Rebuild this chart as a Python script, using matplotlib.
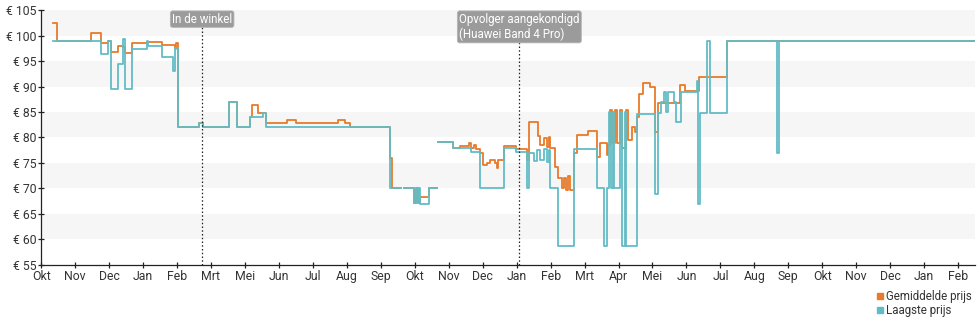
import numpy as np
import matplotlib
matplotlib.use("Agg")
import matplotlib.pyplot as plt
from matplotlib.lines import Line2D

plt.rcParams["font.family"] = ["Roboto", "DejaVu Sans"]

# x = months since start of first "Okt", prices in euro (steps-post), NaN = gap
month_labels = ["Okt", "Nov", "Dec", "Jan", "Feb", "Mrt", "Mei", "Jun", "Jul", "Aug",
                "Sep", "Okt", "Nov", "Dec", "Jan", "Feb", "Mrt", "Apr", "Mei", "Jun",
                "Jul", "Aug", "Sep", "Okt", "Nov", "Dec", "Jan", "Feb"]

avg_x = [0.35, 0.47, 1.47, 1.77, 1.97, 2.06, 2.27, 2.42, 2.47, 2.68, 3.12, 3.56, 3.95,
         3.98, 4.03, 4.65, 4.77, 5.54, 5.77, 6.15, 6.21, 6.39, 6.62, 7.24, 7.51, 8.75,
         8.95, 9.10, 10.28, 10.34, 10.60, 10.69, 10.98, 11.04, 11.10, 11.16, 11.43, 11.66,
         11.69, 12.13, 12.34, 12.60, 12.66, 12.75, 12.80, 12.93, 13.02, 13.13, 13.22, 13.37,
         13.43, 13.46, 13.63, 13.99, 14.31, 14.37, 14.64, 14.70, 14.80, 14.90, 14.95, 14.99,
         15.14, 15.22, 15.34, 15.40, 15.46, 15.52, 15.58, 15.70, 15.78, 16.11, 16.37, 16.46,
         16.67, 16.70, 16.76, 16.81, 16.90, 16.96, 17.05, 17.11, 17.23, 17.28, 17.40, 17.49,
         17.55, 17.61, 17.73, 17.94, 18.08, 18.17, 18.82, 18.96, 19.38, 20.20, 27.5]
avg_y = [102.5, 99.0, 100.5, 98.5, 99.0, 96.7, 98.0, 97.8, 96.6, 98.6, 98.8, 98.2, 97.3,
         98.5, 82.0, 82.9, 82.0, 87.0, 82.0, 84.0, 86.4, 84.9, 82.9, 83.4, 82.9, 83.4,
         82.9, 82.0, 76.0, 70.0, np.nan, 70.0, 67.2, 70.0, 67.2, 68.4, 70.0, np.nan,
         79.1, 78.0, 78.4, 78.9, 78.0, 78.6, 77.8, 76.9, 74.6, 75.0, 75.5, 75.0,
         74.0, 75.6, 78.3, 77.8, 75.6, 83.1, 80.2, 78.5, 79.8, 78.2, 80.0, 78.0,
         74.2, 72.0, 70.0, 72.0, 69.6, 72.5, 69.6, 76.9, 80.5, 81.3, 76.2, 78.9,
         76.5, 78.5, 85.3, 79.0, 85.3, 79.0, 85.3, 78.0, 85.3, 79.5, 82.0, 81.0,
         84.0, 88.5, 90.6, 90.0, 81.1, 86.8, 90.3, 89.1, 91.9, 99.0, 99.0]

low_x = [0.35, 1.77, 1.97, 2.06, 2.27, 2.42, 2.47, 2.68, 3.12, 3.15, 3.56, 3.88, 3.95,
         4.03, 4.65, 4.77, 5.54, 5.77, 6.15, 6.54, 6.62, 10.28, 10.60, 10.69, 10.98, 11.04,
         11.10, 11.13, 11.16, 11.43, 11.66, 11.69, 12.13, 12.66, 12.93, 13.63, 13.99, 14.31,
         14.37, 14.52, 14.60, 14.70, 14.80, 14.88, 14.95, 14.99, 15.22, 15.70, 16.37, 16.58,
         16.67, 16.73, 16.78, 16.84, 16.87, 17.05, 17.11, 17.20, 17.23, 17.55, 18.08, 18.17,
         18.26, 18.34, 18.40, 18.46, 18.64, 18.70, 18.85, 19.32, 19.35, 19.41, 19.61, 19.70,
         20.20, 21.67, 21.73, 27.5]
low_y = [99.0, 96.4, 99.0, 89.5, 94.5, 99.3, 89.5, 97.4, 99.0, 97.9, 95.8, 93.1, 97.5,
         82.0, 82.9, 82.0, 87.0, 82.0, 84.0, 84.9, 82.0, 70.0, np.nan, 70.0, 67.2, 70.0,
         67.2, 70.0, 67.0, 70.0, np.nan, 79.1, 78.0, 77.2, 70.0, 78.0, 77.2, 70.0,
         77.0, 75.3, 77.5, 75.5, 77.7, 75.2, 77.5, 70.0, 58.8, 77.8, 70.0, 58.8,
         70.0, 85.0, 70.0, 85.0, 70.0, 85.0, 58.8, 85.0, 58.8, 84.7, 68.9, 84.9,
         87.0, 89.0, 85.0, 89.0, 87.0, 83.1, 89.0, 91.1, 67.0, 84.9, 99.0, 84.9,
         99.0, 77.0, 99.0, 99.0]

events_x = [4.74, 14.08]
events_text = ["In de winkel", "Opvolger aangekondigd\n(Huawei Band 4 Pro)"]

C_AVG = "#e87a2a"
C_LOW = "#62bcc5"

fig = plt.figure(figsize=(9.8, 3.25), dpi=100)
ax = fig.add_axes([0.042, 0.185, 0.953, 0.784])
ax.set_xlim(0, 27.5)
ax.set_ylim(55, 105)

# alternating horizontal bands
for lo in range(55, 105, 10):
    ax.axhspan(lo + 5, lo + 10, color="#f6f6f6", zorder=0, lw=0)

ax.plot(avg_x, avg_y, drawstyle="steps-post", color=C_AVG, lw=1.3, zorder=2)
ax.plot(low_x, low_y, drawstyle="steps-post", color=C_LOW, lw=1.3, zorder=3)

for x, txt in zip(events_x, events_text):
    ax.axvline(x, color="#222222", ls=(0, (1.2, 1.8)), lw=0.9, zorder=4)
    ax.text(x, 104.5, txt, ha="center", va="top", fontsize=8.3, color="white",
            multialignment="left", zorder=5,
            bbox=dict(boxstyle="round,pad=0.15,rounding_size=0.2", fc="#9b9b9b",
                      ec="#b5b5b5", lw=0.6))

ax.set_yticks(range(55, 106, 5))
ax.set_yticklabels([f"€ {v}" for v in range(55, 106, 5)])
ax.set_xticks(range(len(month_labels)))
ax.set_xticklabels(month_labels)
ax.tick_params(axis="both", direction="inout", length=5, width=0.9, color="#222222",
               labelsize=8.8, labelcolor="#333333", pad=1)
for s in ["top", "right"]:
    ax.spines[s].set_visible(False)
for s in ["left", "bottom"]:
    ax.spines[s].set_color("#222222")
    ax.spines[s].set_linewidth(0.9)

handles = [Line2D([], [], ls="", marker="s", ms=5, color=C_AVG),
           Line2D([], [], ls="", marker="s", ms=5, color=C_LOW)]
fig.legend(handles, ["Gemiddelde prijs", "Laagste prijs"], loc="upper right",
           bbox_to_anchor=(0.997, 0.125), frameon=False, fontsize=8.3,
           handlelength=0.6, handletextpad=0.2, labelspacing=0.1, borderpad=0,
           labelcolor="#333333")

fig.savefig("out.png", dpi=100)
